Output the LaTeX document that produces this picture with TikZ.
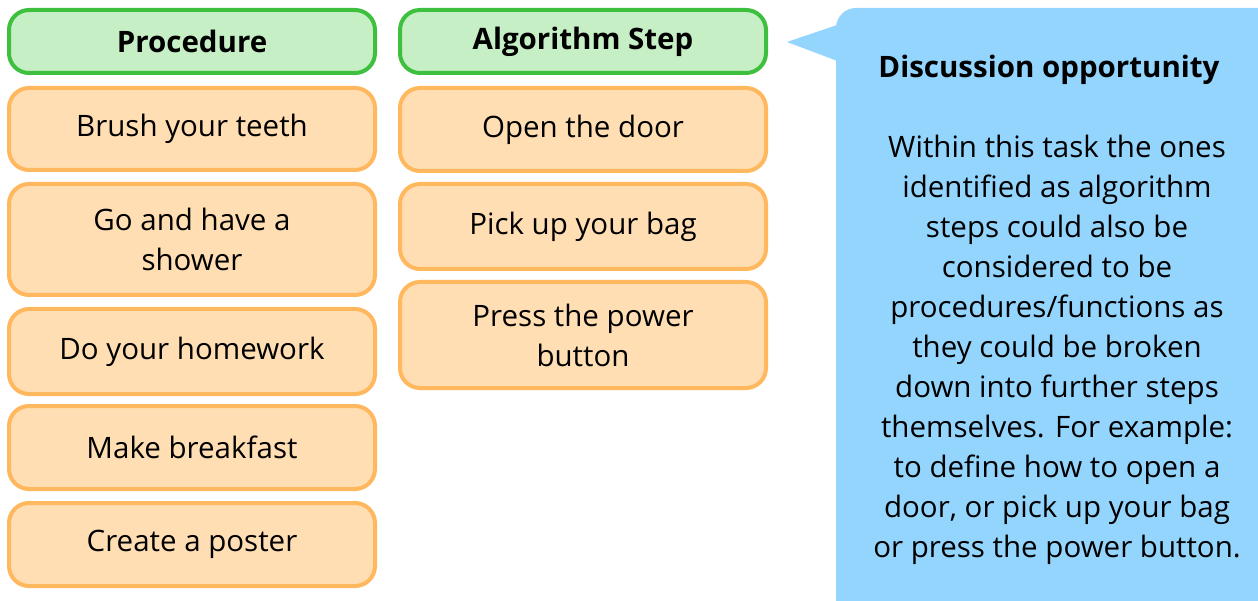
\documentclass[tikz,border=0pt]{standalone}
\usepackage{fontspec}
\setmainfont{Open Sans}
\definecolor{hdrfill}{HTML}{C6EFC6}
\definecolor{hdrline}{HTML}{3EC03E}
\definecolor{itfill}{HTML}{FFDEB3}
\definecolor{itline}{HTML}{FFB85E}
\definecolor{notefill}{HTML}{94D5FE}
\tikzset{
  card/.style={rectangle, rounded corners=20pt, line width=4pt, minimum width=366pt, align=center, inner sep=0pt, font=\fontsize{29.5}{40}\selectfont},
  hdr/.style={card, draw=hdrline, fill=hdrfill, minimum height=63pt, font=\fontsize{29.5}{40}\selectfont\bfseries},
  item/.style={card, draw=itline, fill=itfill},
  notetext/.style={align=center, inner sep=0pt, font=\fontsize{29.5}{40}\selectfont}
}
\begin{document}
\begin{tikzpicture}[x=1pt,y=-1pt]
\useasboundingbox (0,0) rectangle (1258,601);
% headers
\node[hdr] (hproc) at (192,41.5) {Procedure};
\node[hdr] (halg) at (583,41.5) {Algorithm Step};
% procedure column
\node[item, minimum height=82pt] (p1) at (192,129) {Brush your teeth};
\node[item, minimum height=111pt] (p2) at (192,239.5) {Go and have a\\shower};
\node[item, minimum height=85pt] (p3) at (192,351.5) {Do your homework};
\node[item, minimum height=83pt] (p4) at (192,447.5) {Make breakfast};
\node[item, minimum height=83pt] (p5) at (192,544.5) {Create a poster};
% algorithm column
\node[item, minimum height=83pt] (a1) at (583,129.5) {Open the door};
\node[item, minimum height=85pt] (a2) at (583,226.5) {Pick up your bag};
\node[item, minimum height=106pt] (a3) at (583,335) {Press the power\\button};
% callout
\fill[notefill, rounded corners=20pt] (836,8) rectangle (1280,625);
\fill[notefill] (787,42) -- (840,24) -- (840,62) -- cycle;
\node[notetext, font=\fontsize{29.5}{40}\selectfont\bfseries, anchor=base] (ntitle) at (1049,78) {Discussion opportunity};
\node[notetext] (nbody) at (1057,350) {Within this task the ones\\identified as algorithm\\steps could also be\\considered to be\\procedures/functions as\\they could be broken\\down into further steps\\themselves. For example:\\to define how to open a\\door, or pick up your bag\\or press the power button.};
\end{tikzpicture}
\end{document}
